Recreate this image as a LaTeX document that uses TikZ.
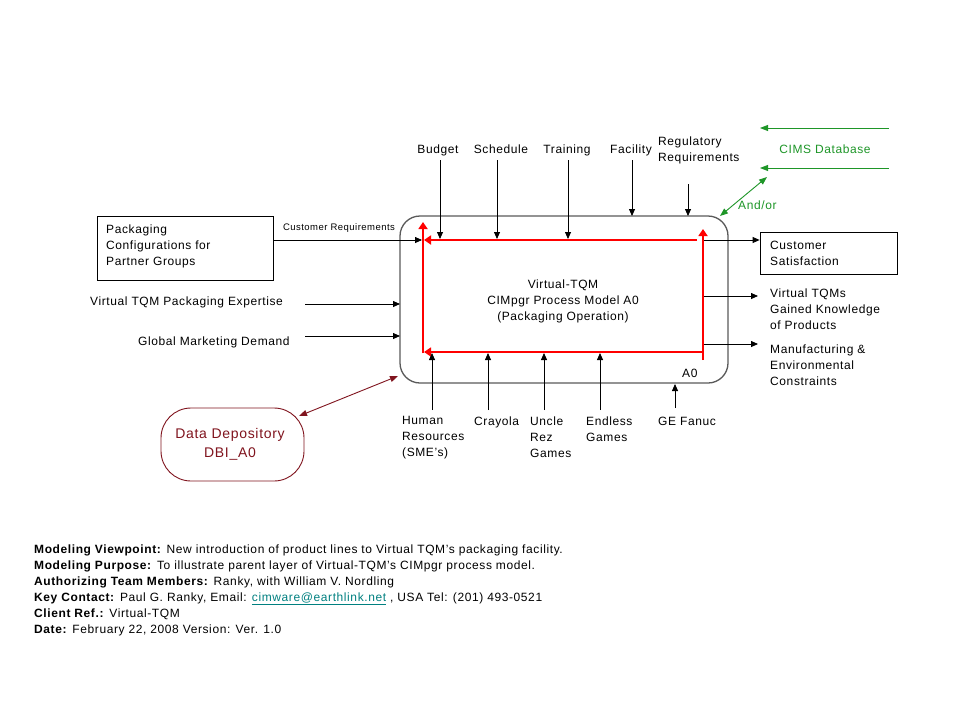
\documentclass[tikz,border=0pt]{standalone}
\usepackage{fontspec}
\setmainfont{Liberation Sans}[LetterSpace=5]
\usetikzlibrary{arrows.meta}
\definecolor{cimsgreen}{RGB}{30,150,40}
\definecolor{dbred}{RGB}{128,20,30}
\definecolor{linkteal}{RGB}{0,128,128}
\definecolor{boxgray}{RGB}{90,90,90}
\begin{document}
\begin{tikzpicture}[x=1pt,y=-1pt,
  font=\fontsize{12}{16}\selectfont,
  lbl/.style={inner sep=0pt},
  ml/.style={inner sep=0pt, align=left, anchor=north west},
  blk/.style={draw=black, line width=0.8pt, -{Triangle[length=7pt,width=6pt]}},
  reda/.style={draw=red, line width=2.6pt, -{Triangle[length=7pt,width=9pt]}},
  grn/.style={draw=cimsgreen, line width=0.9pt, -{Triangle[length=8pt,width=6pt]}},
  grn2/.style={draw=cimsgreen, line width=0.9pt, {Triangle[length=8pt,width=6pt]}-{Triangle[length=8pt,width=6pt]}},
  dbr/.style={draw=dbred, line width=0.9pt, {Triangle[length=8pt,width=6pt]}-{Triangle[length=8pt,width=6pt]}},
]
\useasboundingbox (0,0) rectangle (960,720);
\fill[white] (0,0) rectangle (960,720);

% main box
\node[draw=boxgray, line width=1.3pt, rounded corners=20pt, minimum width=328pt, minimum height=167pt, inner sep=0pt] (box) at (564,299.5) {};
\node[lbl, align=center] (title) at (563,301) {Virtual-TQM\\CIMpgr Process Model A0\\(Packaging Operation)};
\node[lbl, anchor=base west] (a0) at (682,377) {A0};

% red frame coordinates
\coordinate (rLbot) at (423,353.3);
\coordinate (rLtop) at (423,222);
\coordinate (rTR) at (697,240);
\coordinate (rTL) at (424,240);
\coordinate (rBR) at (703,352);
\coordinate (rBL) at (424,352);
\coordinate (rRbot) at (703,360);
\coordinate (rRtop) at (703,229);
\draw[reda] (rLbot) -- (rLtop);
\draw[reda] (rTR) -- (rTL);
\draw[reda] (rBR) -- (rBL);
\draw[reda] (rRbot) -- (rRtop);

% top controls
\node[lbl, anchor=base] (budget) at (438,153) {Budget};
\node[lbl, anchor=base] (sched) at (501,153) {Schedule};
\node[lbl, anchor=base] (train) at (567,153) {Training};
\node[lbl, anchor=base] (fac) at (631,153) {Facility};
\node[ml] (reg) at (658,136.5) {Regulatory\\Requirements};
\coordinate (cB1) at (440,160); \coordinate (cB2) at (440,239);
\coordinate (cS1) at (497,160); \coordinate (cS2) at (497,239);
\coordinate (cT1) at (568,160); \coordinate (cT2) at (568,239);
\coordinate (cF1) at (632,160); \coordinate (cF2) at (632,216);
\coordinate (cR1) at (688,184); \coordinate (cR2) at (688,216);
\draw[blk] (cB1) -- (cB2);
\draw[blk] (cS1) -- (cS2);
\draw[blk] (cT1) -- (cT2);
\draw[blk] (cF1) -- (cF2);
\draw[blk] (cR1) -- (cR2);

% CIMS database
\node[lbl, anchor=base, text=cimsgreen] (cims) at (825,153) {CIMS Database};
\coordinate (g1a) at (889,128); \coordinate (g1b) at (760,128);
\coordinate (g2a) at (889,168); \coordinate (g2b) at (760,168);
\coordinate (g3a) at (720,216); \coordinate (g3b) at (767,177);
\draw[grn] (g1a) -- (g1b);
\draw[grn] (g2a) -- (g2b);
\draw[grn2] (g3a) -- (g3b);
\node[lbl, anchor=base west, text=cimsgreen] (andor) at (738,209) {And/or};

% left inputs
\node[draw, line width=0.8pt, minimum width=176pt, minimum height=64pt, inner sep=0pt] (pkg) at (185,248) {};
\node[ml] (pkgtxt) at (106,224.5) {Packaging\\Configurations for\\Partner Groups};
\node[lbl, anchor=base, font=\fontsize{9.5}{11}\selectfont] (custreq) at (339,230.5) {Customer Requirements};
\coordinate (crEnd) at (422,240);
\draw[blk] (pkg.east |- crEnd) -- (crEnd);
\node[lbl, anchor=base west] (expert) at (90,305) {Virtual TQM Packaging Expertise};
\node[lbl, anchor=base west] (glob) at (138,345) {Global Marketing Demand};
\coordinate (e1) at (305,304); \coordinate (e2) at (400,304);
\coordinate (m1) at (305,336); \coordinate (m2) at (400,336);
\draw[blk] (e1) -- (e2);
\draw[blk] (m1) -- (m2);

% outputs
\node[draw, line width=0.8pt, minimum width=137pt, minimum height=42pt, inner sep=0pt] (cs) at (828.5,253) {};
\node[ml] (cstxt) at (770,240.5) {Customer\\Satisfaction};
\node[ml] (vtqm) at (770,288.5) {Virtual TQMs\\Gained Knowledge\\of Products};
\node[ml] (manu) at (770,344.5) {Manufacturing \&\\Environmental\\Constraints};
\coordinate (o1) at (704,240);
\coordinate (o2a) at (704,296); \coordinate (o2b) at (758,296);
\coordinate (o3a) at (704,344); \coordinate (o3b) at (758,344);
\draw[blk] (o1) -- (cs.west |- o1);
\draw[blk] (o2a) -- (o2b);
\draw[blk] (o3a) -- (o3b);

% mechanisms
\node[ml] (hr) at (402,416.5) {Human\\Resources\\(SME's)};
\node[lbl, anchor=base west] (cray) at (474,425) {Crayola};
\node[ml] (uncle) at (530,416.5) {Uncle\\Rez\\Games};
\node[ml] (endless) at (586,416.5) {Endless\\Games};
\node[lbl, anchor=base west] (ge) at (658,425) {GE Fanuc};
\coordinate (h1) at (432,410); \coordinate (h2) at (432,353);
\coordinate (c1) at (488,410); \coordinate (c2) at (488,353);
\coordinate (u1) at (544,410); \coordinate (u2) at (544,353);
\coordinate (n1) at (600,410); \coordinate (n2) at (600,353);
\coordinate (f1) at (675,408); \coordinate (f2) at (675,384);
\draw[blk] (h1) -- (h2);
\draw[blk] (c1) -- (c2);
\draw[blk] (u1) -- (u2);
\draw[blk] (n1) -- (n2);
\draw[blk] (f1) -- (f2);

% data depository
\node[draw=dbred, line width=0.9pt, rounded corners=30pt, minimum width=143pt, minimum height=73pt, inner sep=0pt] (db) at (232.5,444.5) {};
\node[lbl, align=center, text=dbred, font=\fontsize{14}{19}\selectfont] (dbtxt) at (230,444.5) {Data Depository\\DBI\_A0};
\coordinate (d1) at (299,416); \coordinate (d2) at (398,376);
\draw[dbr] (d1) -- (d2);

% notes
\node[ml] (notes) at (34,544.5) {\textbf{Modeling Viewpoint:} New introduction of product lines to Virtual TQM's packaging facility.\\
\textbf{Modeling Purpose:} To illustrate parent layer of Virtual-TQM's CIMpgr process model.\\
\textbf{Authorizing Team Members:} Ranky, with William V. Nordling\\
\textbf{Key Contact:} Paul G. Ranky, Email: \textcolor{linkteal}{\underline{cimware@earthlink.net}} , USA Tel: (201) 493-0521\\
\textbf{Client Ref.:} Virtual-TQM\\
\textbf{Date:} February 22, 2008 Version: Ver. 1.0};
\end{tikzpicture}
\end{document}
